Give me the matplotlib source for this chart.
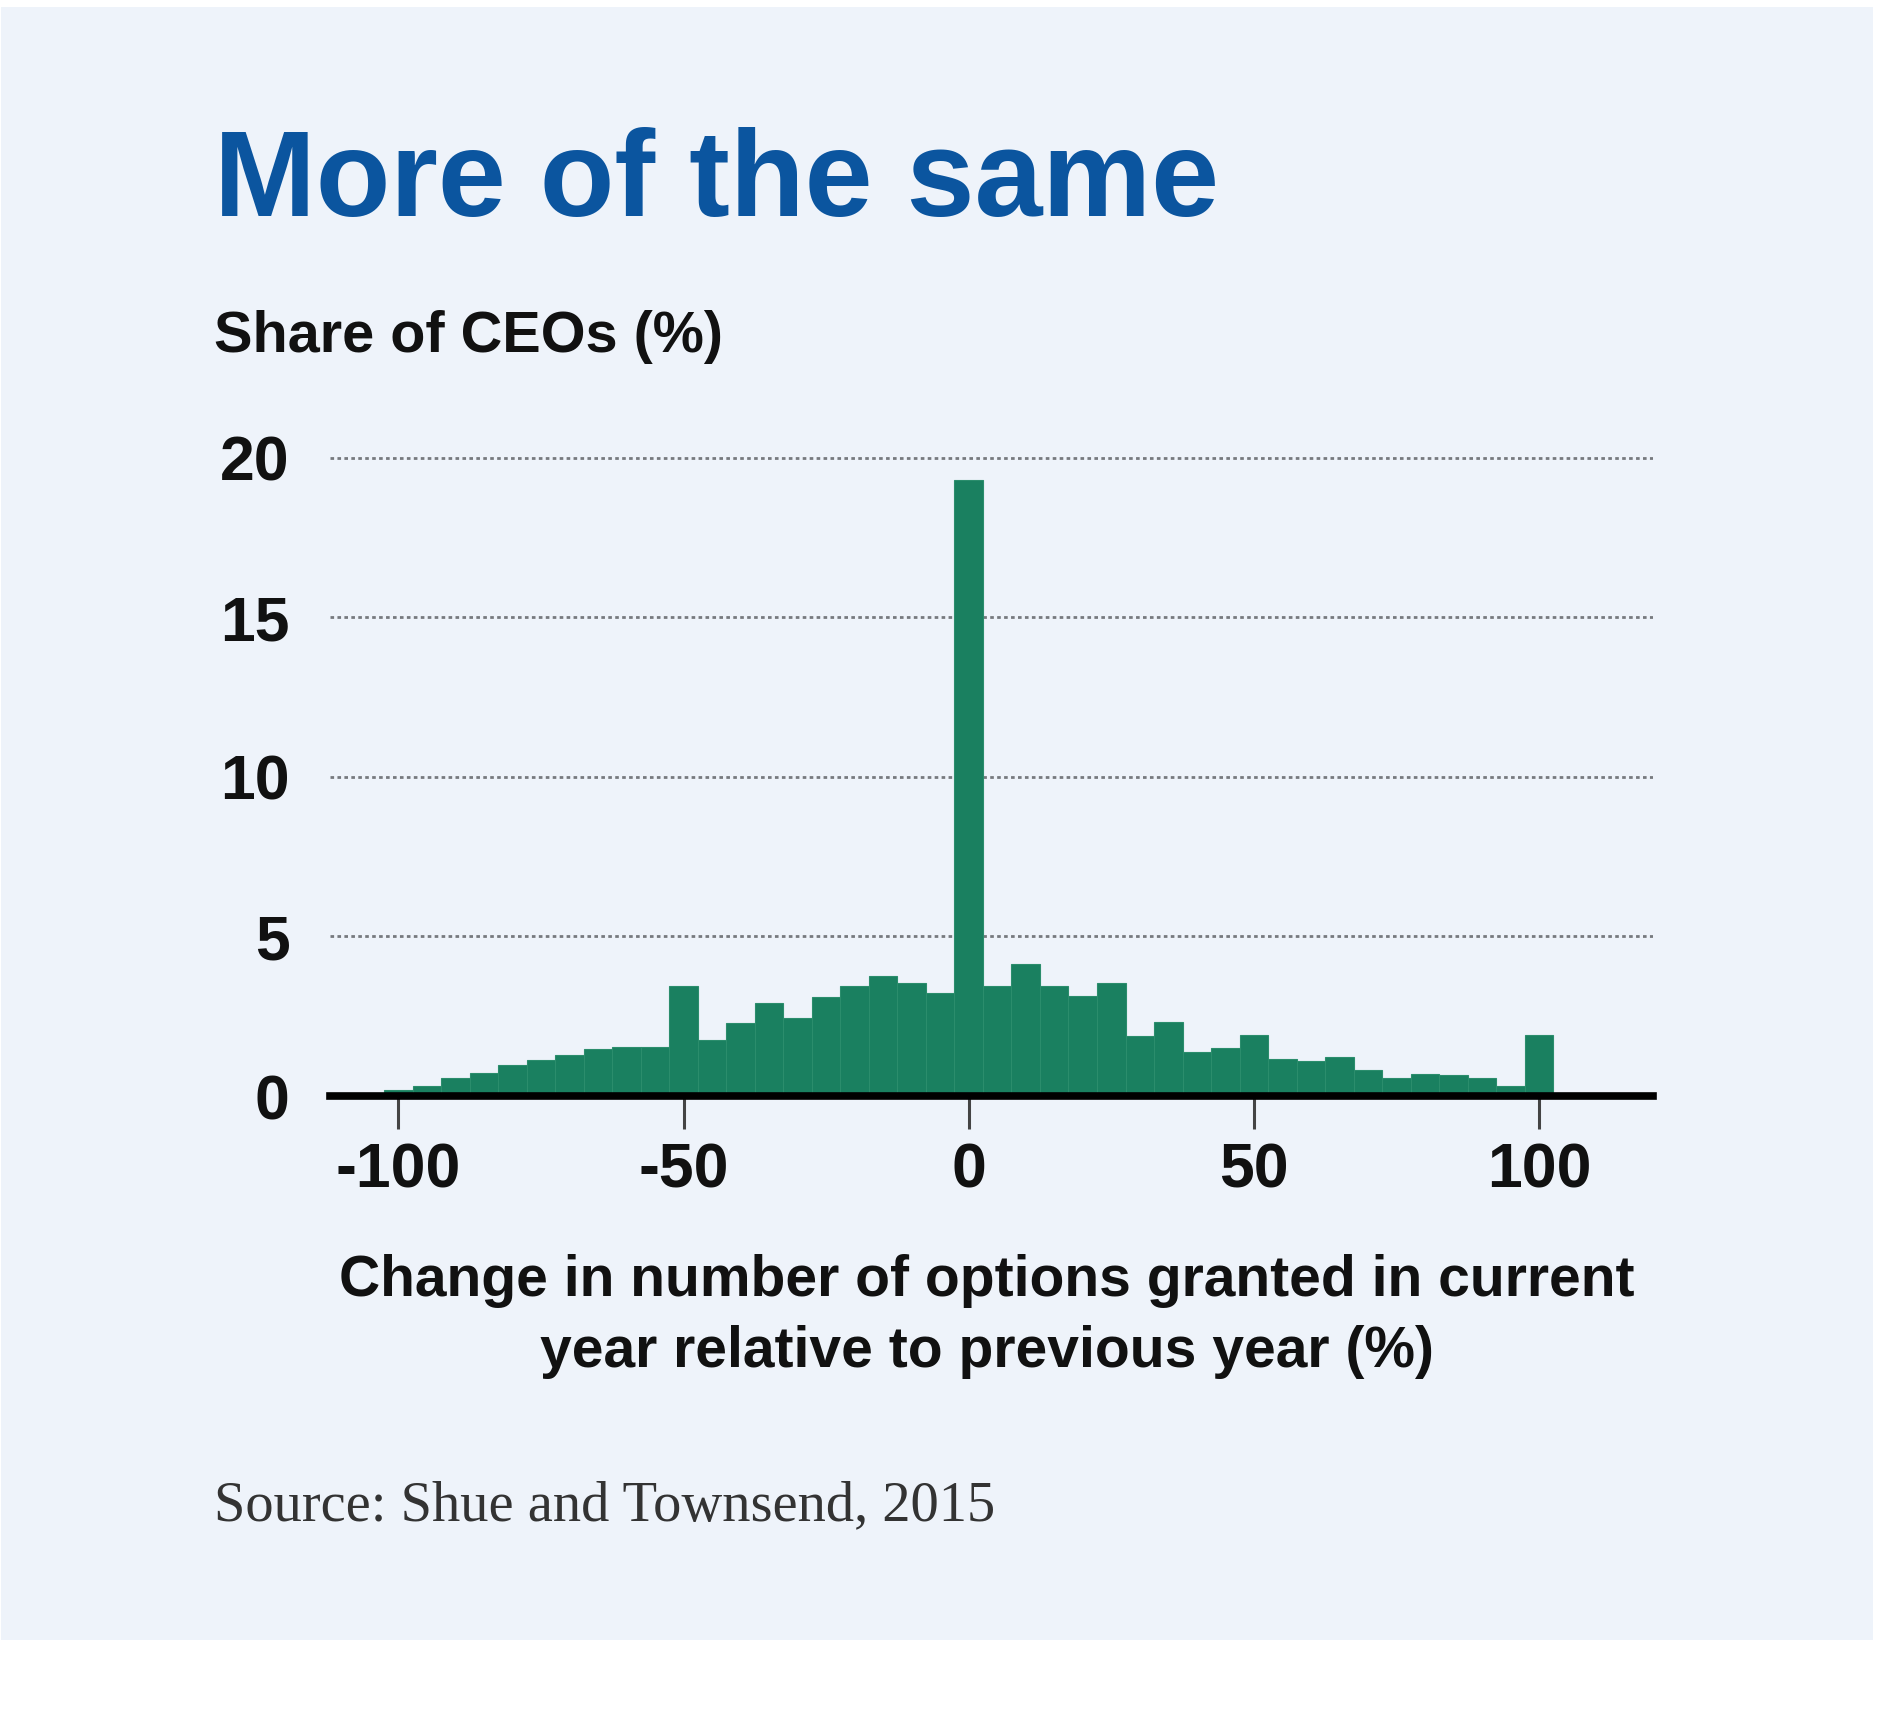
import numpy as np
import matplotlib
matplotlib.use("Agg")
import matplotlib.pyplot as plt
from matplotlib.patches import Rectangle

# bin centres (% change in options granted) and share of CEOs (%)
bin_centres = list(range(-100, 101, 5))
share = [0.20, 0.32, 0.56, 0.72, 0.96, 1.12, 1.27, 1.48, 1.53, 1.55,
         3.46, 1.75, 2.30, 2.92, 2.45, 3.11, 3.44, 3.76, 3.55, 3.23,
         19.30, 3.46, 4.15, 3.46, 3.13, 3.55, 1.87, 2.31, 1.37, 1.51,
         1.90, 1.17, 1.09, 1.23, 0.81, 0.57, 0.68, 0.66, 0.56, 0.30,
         1.90]
xticks = [-100, -50, 0, 50, 100]
yticks = [0, 5, 10, 15, 20]

title = "More of the same"
ylabel = "Share of CEOs (%)"
xlabel_1 = "Change in number of options granted in current"
xlabel_2 = "year relative to previous year (%)"
source = "Source: Shue and Townsend, 2015"

plt.rcParams['axes.unicode_minus'] = False
sans = ['Liberation Sans', 'DejaVu Sans']
serif = ['Liberation Serif', 'DejaVu Serif']

W, H = 1881, 1709
fig = plt.figure(figsize=(W/100, H/100), dpi=100, facecolor='white')

# light panel behind everything
fig.patches.append(Rectangle((1/W, 1 - 1640/H), 1872/W, 1633/H,
                             transform=fig.transFigure, facecolor='#eef3fa',
                             edgecolor='none', zorder=-5))

# axes placed in pixel terms: x -112..120, y 0..20.3
x0, x1 = 330, 1653
y0, ytop = 1096, 448
ax = fig.add_axes([x0/W, 1 - y0/H, (x1 - x0)/W, (y0 - ytop)/H])
ax.set_facecolor('none')
ax.set_zorder(2)

ax.bar(bin_centres, share, width=5, color='#1a8060', edgecolor='#2b8d6c',
       linewidth=0.8, zorder=2)

ax.set_xlim(-112, 120)
ax.set_ylim(0, 20.3)

for s in ['top', 'right', 'left']:
    ax.spines[s].set_visible(False)
ax.spines['bottom'].set_linewidth(5.5)
ax.spines['bottom'].set_color('black')
ax.spines['bottom'].set_zorder(3)

for v in yticks[1:]:
    ax.axhline(v, color='#76797e', lw=2.0, ls=(0, (1.3, 1.2)), zorder=1)

ax.set_xticks(xticks)
ax.set_xticklabels([str(v) for v in xticks])
ax.set_yticks(yticks)
ax.set_yticklabels([str(v) for v in yticks])
ax.tick_params(axis='x', direction='out', length=24, width=2.2, color='#444444',
               pad=9, labelsize=45)
ax.tick_params(axis='y', length=0, pad=29, labelsize=45)
for lab in ax.get_xticklabels() + ax.get_yticklabels():
    lab.set_family(sans)
    lab.set_fontweight('bold')
    lab.set_color('#111111')

fig.text(214/W, 1 - 216/H, title, family=sans, fontweight='bold',
         fontsize=88, color='#0b559f', ha='left', va='baseline')
fig.text(214/W, 1 - 352/H, ylabel, family=sans, fontweight='bold',
         fontsize=41.5, color='#111111', ha='left', va='baseline')
fig.text(987/W, 1 - 1296/H, xlabel_1, family=sans, fontweight='bold',
         fontsize=41, color='#111111', ha='center', va='baseline')
fig.text(987/W, 1 - 1367/H, xlabel_2, family=sans, fontweight='bold',
         fontsize=41, color='#111111', ha='center', va='baseline')
fig.text(214/W, 1 - 1520/H, source, family=serif, fontsize=40.7,
         color='#333333', ha='left', va='baseline')

fig.savefig('out.png', dpi=100, facecolor='white')
